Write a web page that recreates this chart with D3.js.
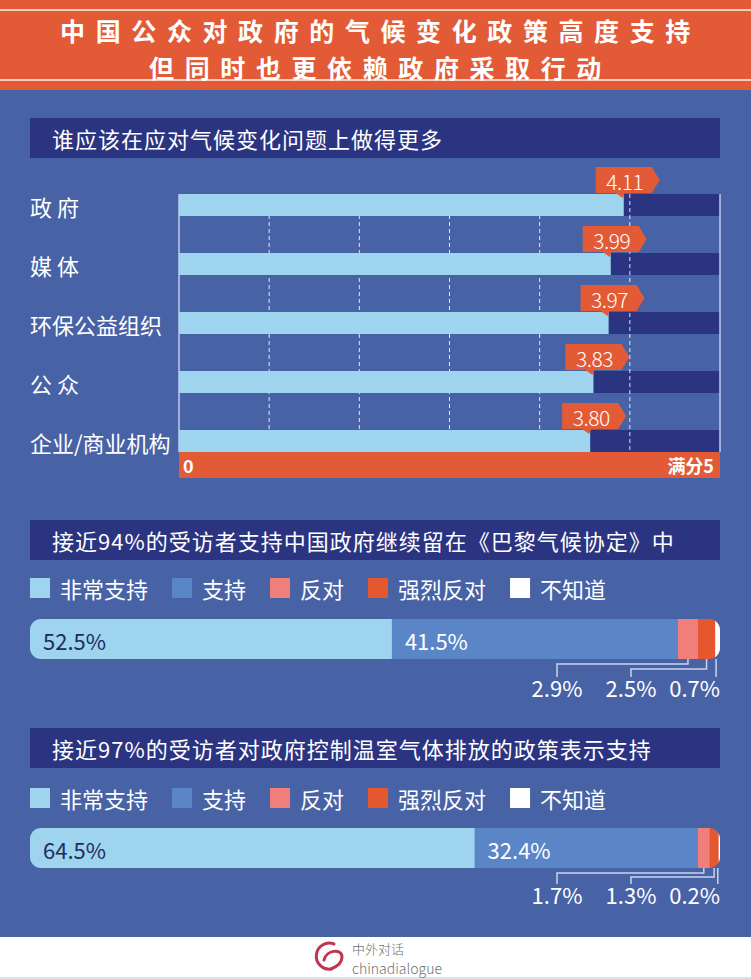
<!DOCTYPE html>
<html><head><meta charset="utf-8">
<script src="https://cdn.jsdelivr.net/npm/d3@7"></script>
<style>
html,body{margin:0;padding:0;background:#fff;}
svg{display:block;}
text{font-family:"Noto Sans CJK SC","Noto Sans",sans-serif;}
</style></head><body>
<svg id="chart" width="751" height="979"></svg>
<script>
// ---------------- data ----------------
const titleLines = ["中国公众对政府的气候变化政策高度支持", "但同时也更依赖政府采取行动"];
const section1Title = "谁应该在应对气候变化问题上做得更多";
const categories = ["政 府", "媒 体", "环保公益组织", "公 众", "企业/商业机构"];
const scores = [4.11, 3.99, 3.97, 3.83, 3.80];
const scoreMax = 5;
const axisMinLabel = "0";
const axisMaxLabel = "满分5";
const legendLabels = ["非常支持", "支持", "反对", "强烈反对", "不知道"];
const section2Title = "接近94%的受访者支持中国政府继续留在《巴黎气候协定》中";
const parisValues = [52.5, 41.5, 2.9, 2.5, 0.7];
const section3Title = "接近97%的受访者对政府控制温室气体排放的政策表示支持";
const emissionValues = [64.5, 32.4, 1.7, 1.3, 0.2];
const footerLines = ["中外对话", "chinadialogue"];

// ---------------- styles ----------------
const COL = {
  orange: "#e35b36", bg: "#4862a6", navy: "#2b3481", light: "#9fd4ef",
  mid: "#5a86c8", pink: "#f07f7c", strong: "#e4572f", white: "#ffffff",
  dark: "#1d2c5e", line: "#c9d3ee"
};
const segColors = [COL.light, COL.mid, COL.pink, COL.strong, COL.white];

const svg = d3.select("#chart");
const W = 751, H = 979;
const L = 30, R = 720;

// background
svg.append("rect").attr("width", W).attr("height", H).attr("fill", "#fff");
svg.append("rect").attr("x", 0).attr("y", 88).attr("width", W).attr("height", 849).attr("fill", COL.bg);

// title banner
svg.append("rect").attr("x", 0).attr("y", 0).attr("width", W).attr("height", 90).attr("fill", COL.orange);
[10, 80].forEach(y => svg.append("rect").attr("x", 0).attr("y", y - 1).attr("width", W).attr("height", 2).attr("fill", "#f6cdb9"));
titleLines.forEach((t, i) => {
  svg.append("text").attr("x", W / 2 + 5).attr("y", 30 + i * 37)
    .attr("text-anchor", "middle").attr("dominant-baseline", "central")
    .attr("font-size", 25).attr("font-weight", 700).attr("letter-spacing", 10.6)
    .attr("fill", "#fff").text(t);
});

function header(y, text) {
  svg.append("rect").attr("x", L).attr("y", y).attr("width", R - L).attr("height", 40).attr("fill", COL.navy);
  svg.append("text").attr("x", 52).attr("y", y + 20).attr("dominant-baseline", "central")
    .attr("font-size", 22).attr("letter-spacing", 1).attr("fill", "#fff").text(text);
}

// ---------------- section 1: bar chart ----------------
header(118, section1Title);

const x = d3.scaleLinear().domain([0, scoreMax]).range([179, R]);
const y = d3.scalePoint().domain(categories).range([205, 441]);
const barH = 22;
const grid = d3.scaleLinear().domain([0, 6]).range([179, R]);
const plotTop = y(categories[0]) - barH / 2, plotBottom = 452;

const g1 = svg.append("g");
// remainder (navy) bars
g1.selectAll("rect.rem").data(scores).join("rect").attr("class", "rem")
  .attr("x", d => x(d)).attr("y", (d, i) => y(categories[i]) - barH / 2)
  .attr("width", d => x(scoreMax) - x(d)).attr("height", barH).attr("fill", COL.navy);
// dashed gridlines
g1.selectAll("line.grid").data(d3.range(1, 6)).join("line").attr("class", "grid")
  .attr("x1", d => grid(d)).attr("x2", d => grid(d)).attr("y1", plotTop).attr("y2", plotBottom)
  .attr("stroke", "#ffffff").attr("stroke-opacity", 0.85).attr("stroke-width", 1).attr("stroke-dasharray", "4,3");
// value bars
g1.selectAll("rect.val").data(scores).join("rect").attr("class", "val")
  .attr("x", x(0)).attr("y", (d, i) => y(categories[i]) - barH / 2)
  .attr("width", d => x(d) - x(0)).attr("height", barH).attr("fill", COL.light);
// side axis lines
[x(0), x(scoreMax)].forEach(xx => g1.append("line").attr("x1", xx).attr("x2", xx)
  .attr("y1", plotTop).attr("y2", plotBottom).attr("stroke", "#bccaf0").attr("stroke-width", 1.5));
// orange axis band
g1.append("rect").attr("x", x(0)).attr("y", plotBottom).attr("width", x(scoreMax) - x(0)).attr("height", 26).attr("fill", COL.orange);
g1.append("text").attr("x", x(0) + 4).attr("y", plotBottom + 13).attr("dominant-baseline", "central")
  .attr("font-size", 18).attr("font-weight", 700).attr("fill", "#fff").text(axisMinLabel);
g1.append("text").attr("x", x(scoreMax) - 6).attr("y", plotBottom + 13).attr("dominant-baseline", "central")
  .attr("text-anchor", "end").attr("font-size", 18).attr("font-weight", 700).attr("fill", "#fff").text(axisMaxLabel);
// category labels
g1.selectAll("text.cat").data(categories).join("text").attr("class", "cat")
  .attr("x", L).attr("y", d => y(d) + 1).attr("dominant-baseline", "central")
  .attr("font-size", 22).attr("fill", "#fff").text(d => d);
// value tags
scores.forEach((v, i) => {
  const cx = x(v), bt = y(categories[i]) - barH / 2;
  const t = bt - 27, b = bt - 1, l = cx - 28, r = cx + 28;
  const path = `M${l},${t} L${r},${t} L${r + 8},${(t + b) / 2} L${r},${b} L${cx + 1},${b} L${cx - 1},${b + 5} L${cx - 8},${b} L${l},${b} Z`;
  g1.append("path").attr("d", path).attr("fill", COL.orange);
  g1.append("text").attr("x", cx + 1).attr("y", (t + b) / 2 + 1).attr("text-anchor", "middle")
    .attr("dominant-baseline", "central").attr("font-size", 21).attr("font-weight", 300).attr("letter-spacing", -0.5)
    .attr("fill", "#fff").text(v.toFixed(2));
});

// ---------------- stacked bars ----------------
function legend(cy) {
  let xx = L;
  legendLabels.forEach((lab, i) => {
    svg.append("rect").attr("x", xx).attr("y", cy - 10).attr("width", 20).attr("height", 20).attr("fill", segColors[i]);
    const tx = svg.append("text").attr("x", xx + 30).attr("y", cy).attr("dominant-baseline", "central")
      .attr("font-size", 22).attr("fill", "#fff").text(lab);
    xx = xx + 30 + tx.node().getComputedTextLength() + 24;
  });
}

let clipId = 0;
function stack(values, top, e1, e2, drop) {
  const h = 40, bottom = top + h;
  const xs = d3.scaleLinear().domain([0, d3.sum(values)]).range([L, R]);
  const cum = d3.cumsum(values);
  const starts = values.map((v, i) => cum[i] - v);
  const id = "clip" + (clipId++);
  svg.append("clipPath").attr("id", id).append("rect")
    .attr("x", L).attr("y", top).attr("width", R - L).attr("height", h).attr("rx", 11).attr("ry", 11);
  const g = svg.append("g").attr("clip-path", `url(#${id})`);
  g.selectAll("rect").data(values).join("rect")
    .attr("x", (d, i) => xs(starts[i])).attr("y", top)
    .attr("width", (d, i) => xs(cum[i]) - xs(starts[i]) + (i < values.length - 1 ? 0.5 : 2)).attr("height", h)
    .attr("fill", (d, i) => segColors[i]);
  // inner labels for the two large segments
  [0, 1].forEach(i => {
    svg.append("text").attr("x", xs(starts[i]) + 13).attr("y", top + h / 2 + 1)
      .attr("dominant-baseline", "central").attr("font-size", 22)
      .attr("fill", i === 0 ? COL.dark : "#fff").text(values[i].toFixed(1) + "%");
  });
  // callouts for small segments
  const labelXs = [R - 163, R - 89, R];
  const elbows = [e1, e2, null];
  [2, 3, 4].forEach((si, k) => {
    const sc = (xs(starts[si]) + xs(cum[si])) / 2;
    const lx = labelXs[k];
    let d;
    if (elbows[k] !== null) {
      d = `M${sc},${bottom} V${bottom + elbows[k]} H${lx} V${bottom + drop}`;
    } else {
      d = `M${sc - 1.5},${bottom} V${bottom + drop}`;
    }
    svg.append("path").attr("d", d).attr("fill", "none").attr("stroke", COL.line).attr("stroke-width", 1.5);
    svg.append("text").attr("x", lx).attr("y", bottom + drop + 10)
      .attr("text-anchor", k === 2 ? "end" : "middle").attr("dominant-baseline", "central")
      .attr("font-size", 22).attr("fill", "#fff").text(values[si].toFixed(1) + "%");
  });
}

header(520, section2Title);
legend(588);
stack(parisValues, 619, 5, 10, 18);

header(728, section3Title);
legend(798);
stack(emissionValues, 828, 5, 9, 16);

// ---------------- footer ----------------
svg.append("rect").attr("x", 0).attr("y", 937).attr("width", W).attr("height", 42).attr("fill", "#fff");
svg.append("line").attr("x1", 0).attr("x2", W).attr("y1", 978).attr("y2", 978).attr("stroke", "#dde2ea").attr("stroke-width", 2);
const logo = svg.append("g").attr("fill", "none").attr("stroke", "#c23550").attr("stroke-linecap", "round");
logo.append("path").attr("d", "M334,944 A13,13 0 1 0 331,969").attr("stroke-width", 3);
logo.append("path").attr("d", "M324,960 C326,950 342,948 342,957 C342,964 336,967 331,969").attr("stroke-width", 3);
svg.append("text").attr("x", 352).attr("y", 948).attr("dominant-baseline", "central")
  .attr("font-size", 13).attr("fill", "#707070").attr("font-weight", 300).text(footerLines[0]);
svg.append("text").attr("x", 352).attr("y", 968).attr("dominant-baseline", "central")
  .attr("font-size", 14).attr("fill", "#707070").attr("font-weight", 300).text(footerLines[1]);
</script>
</body></html>
